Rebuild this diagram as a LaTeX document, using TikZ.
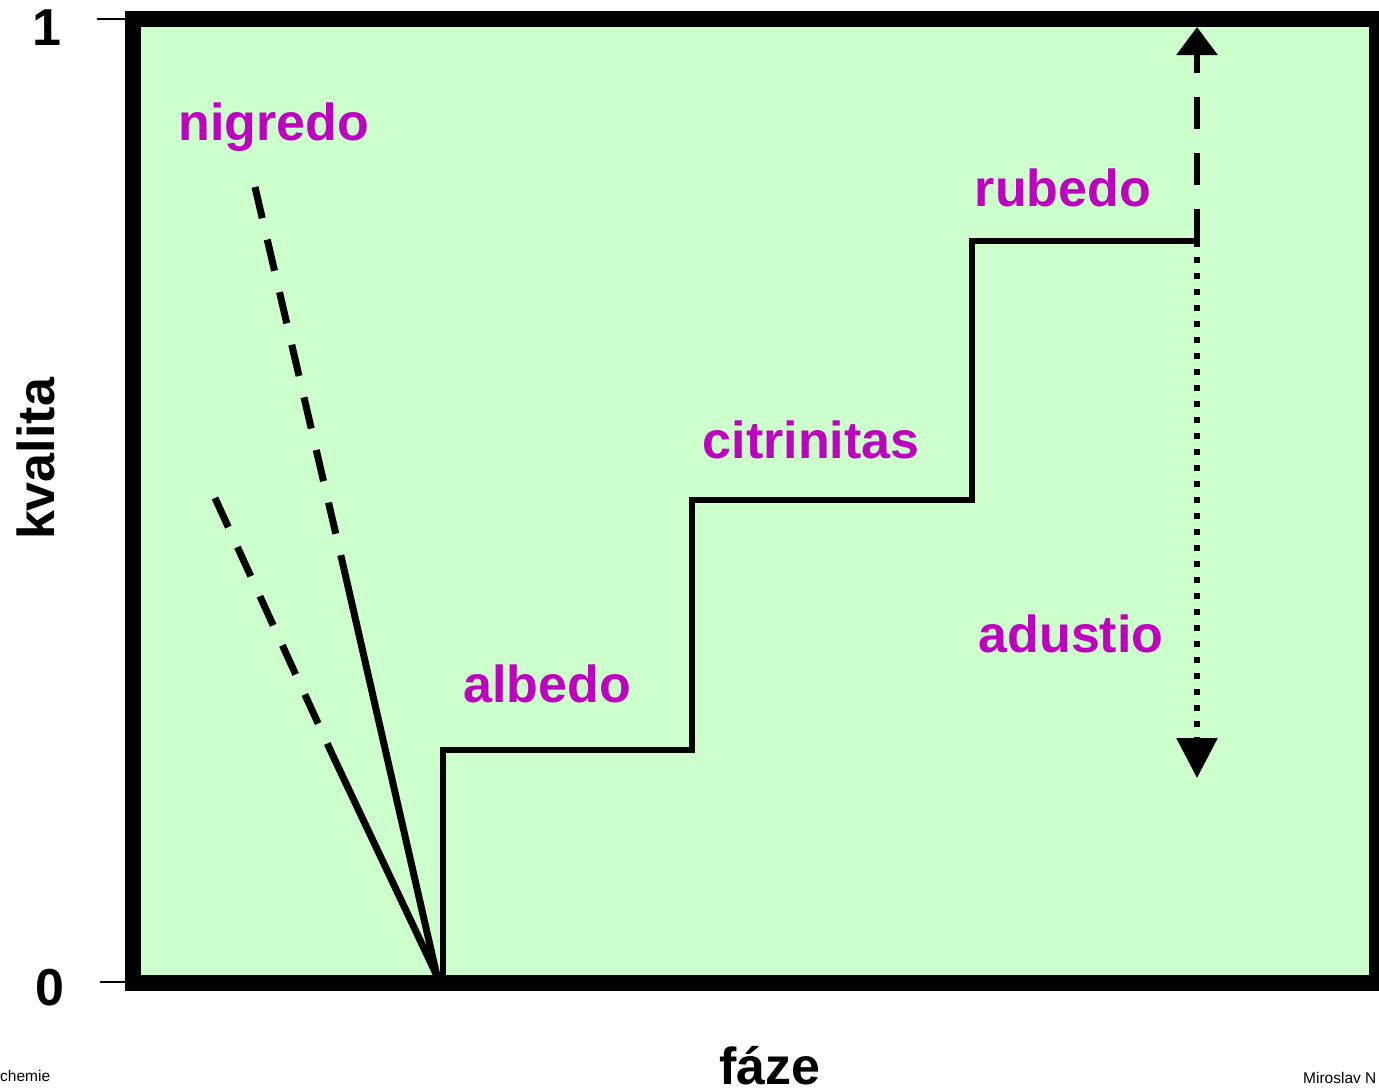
\documentclass[tikz,border=0pt]{standalone}
\usepackage{fontspec}
\setmainfont{Liberation Sans}
\usetikzlibrary{arrows.meta}
\definecolor{fazegreen}{RGB}{204,255,204}
\definecolor{fazeviolet}{RGB}{192,0,192}
\tikzset{
  phase/.style={text=fazeviolet,font=\fontsize{52}{60}\selectfont\bfseries,anchor=base,inner sep=0pt},
  axislabel/.style={font=\fontsize{52}{60}\selectfont\bfseries,anchor=base,inner sep=0pt},
  footer/.style={font=\fontsize{15.5}{18}\selectfont,anchor=base west,inner sep=0pt},
  stair/.style={line width=6pt,line join=miter},
  ray/.style={line width=7pt},
  raydash/.style={ray,dash pattern=on 32pt off 22pt},
}
\begin{document}
\begin{tikzpicture}[x=1pt,y=-1pt]
\useasboundingbox (0,0) rectangle (1379,1092);
% frame
\draw[line width=16pt,fill=fazegreen] (133,19) rectangle (1377,983);
\draw[line width=1.5pt] (97,19) -- (125,19);
\draw[line width=1.5pt] (100,982) -- (125,982);
\node[axislabel] (one) at (47,45) {1};
\node[axislabel] (zero) at (50,1005) {0};
\node[axislabel,rotate=90] (kval) at (54,459) {kvalita};
\node[axislabel] (faze) at (770,1084) {fáze};
\node[footer] (alch) at (0,1081) {chemie};
\node[footer] (auth) at (1303,1083) {Miroslav N};
% stairs
\coordinate (s0) at (443,976);
\coordinate (s1) at (443,750);
\coordinate (s2) at (692,750);
\coordinate (s3) at (692,500);
\coordinate (s4) at (972,500);
\coordinate (s5) at (972,241);
\coordinate (s6) at (1197,241);
\draw[stair] (s0) -- (s1) -- (s2) -- (s3) -- (s4) -- (s5) -- (s6);
% rubedo / adustio
\coordinate (top) at (1197,27);
\coordinate (bot) at (1197,778);
\draw[line width=6pt,dash pattern=on 32pt off 24pt,-{Triangle[width=40pt,length=28pt]}] (s6) -- (top);
\draw[line width=6pt,dash pattern=on 6pt off 10pt,-{Triangle[width=40pt,length=40pt]}] (s6) -- (bot);
% nigredo
\coordinate (n0) at (437,976);
\coordinate (a1) at (255,187);
\coordinate (a2) at (344,569);
\coordinate (b1) at (215,498);
\coordinate (b2) at (333,756);
\draw[raydash] (a1) -- (a2);
\draw[ray] (a2) -- (n0);
\draw[raydash] (b1) -- (b2);
\draw[ray] (b2) -- (n0);
% labels
\node[phase] (nigredo) at (274,140) {nigredo};
\node[phase] (albedo) at (547,702) {albedo};
\node[phase] (citrin) at (811,458) {citrinitas};
\node[phase] (rubedo) at (1063,206) {rubedo};
\node[phase] (adustio) at (1071,652) {adustio};
\end{tikzpicture}
\end{document}
